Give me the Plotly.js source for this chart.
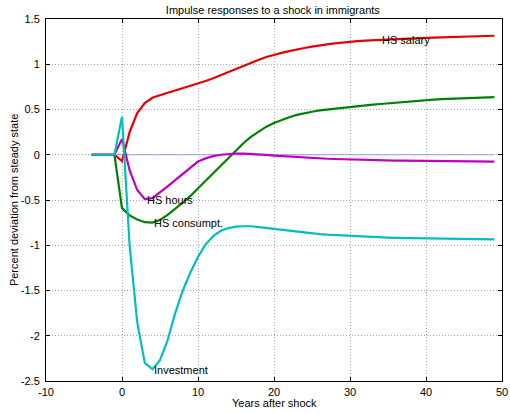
<!DOCTYPE html>
<html><head><meta charset="utf-8">
<script src="https://cdn.plot.ly/plotly-3.0.1.min.js"></script>
<style>html,body{margin:0;padding:0;background:#fff}#chart{width:510px;height:414px}</style>
</head><body><div id="chart"></div>
<script>
const years = [];
for (let t = -4; t <= 49; t++) years.push(t);
const steadyState = years.map(() => 0);
const hsSalary = [0,0,0,0,-0.07,0.25,0.46,0.57,0.63,0.66,0.685,0.71,0.735,0.76,0.785,0.815,0.845,0.88,0.915,0.95,0.985,1.02,1.05,1.08,1.105,1.125,1.145,1.165,1.18,1.195,1.21,1.22,1.23,1.24,1.25,1.255,1.26,1.265,1.27,1.275,1.28,1.283,1.286,1.289,1.292,1.295,1.298,1.3,1.303,1.306,1.308,1.31,1.312,1.315];
const hsConsumpt = [0,0,0,0,-0.59,-0.67,-0.715,-0.745,-0.75,-0.72,-0.665,-0.6,-0.53,-0.455,-0.37,-0.285,-0.2,-0.115,-0.03,0.05,0.13,0.2,0.26,0.31,0.35,0.385,0.415,0.44,0.46,0.475,0.49,0.5,0.51,0.52,0.527,0.536,0.545,0.553,0.561,0.569,0.577,0.585,0.592,0.599,0.605,0.61,0.615,0.619,0.623,0.626,0.629,0.632,0.634,0.636];
const hsHours = [0,0,0,0,0.175,-0.17,-0.39,-0.49,-0.48,-0.42,-0.35,-0.28,-0.21,-0.145,-0.075,-0.04,-0.015,0,0.01,0.013,0.013,0.01,0.005,-0.002,-0.01,-0.016,-0.022,-0.027,-0.032,-0.036,-0.04,-0.044,-0.047,-0.05,-0.053,-0.055,-0.057,-0.059,-0.061,-0.063,-0.064,-0.066,-0.067,-0.068,-0.069,-0.07,-0.071,-0.072,-0.073,-0.074,-0.075,-0.076,-0.076,-0.077];
const investment = [0,0,0,0,0.42,-1.0,-1.85,-2.3,-2.37,-2.27,-2.05,-1.75,-1.5,-1.3,-1.13,-0.99,-0.9,-0.84,-0.81,-0.795,-0.79,-0.79,-0.8,-0.81,-0.82,-0.833,-0.844,-0.854,-0.863,-0.87,-0.877,-0.883,-0.888,-0.893,-0.898,-0.902,-0.906,-0.909,-0.912,-0.915,-0.918,-0.92,-0.922,-0.924,-0.926,-0.927,-0.929,-0.93,-0.931,-0.932,-0.933,-0.934,-0.935,-0.936];
const xTicks = [-10,0,10,20,30,40,50];
const xTickText = ['-10','0','10','20','30','40','50'];
const yTicks = [-2.5,-2,-1.5,-1,-0.5,0,0.5,1,1.5];
const yTickText = ['-2.5','-2','-1.5','-1','-0.5','0','0.5','1','1.5'];
const labels = [
  {text:'HS salary', x:34, y:1.27},
  {text:'HS hours', x:3, y:-0.5},
  {text:'HS consumpt.', x:4, y:-0.75},
  {text:'Investment', x:4, y:-2.38}
];
const xTitle = 'Years after shock';
const yTitle = 'Percent deviation from steady state';

const font = {family:'Liberation Sans, Arial, sans-serif', size:11, color:'#000'};
const mk = (y, color, w) => ({x:years, y:y, type:'scatter', mode:'lines', line:{color:color, width:w}, hoverinfo:'skip'});
const data = [
  mk(steadyState, 'rgb(160,150,225)', 1.2),
  mk(hsSalary, 'rgb(230,0,0)', 2.2),
  mk(hsConsumpt, 'rgb(0,128,0)', 2.2),
  mk(hsHours, 'rgb(191,0,191)', 2.2),
  mk(investment, 'rgb(0,191,191)', 2.2)
];
const axisCommon = {
  showline:true, linecolor:'#000', linewidth:1, mirror:'ticks', ticks:'inside', ticklen:4, tickcolor:'#000',
  showgrid:true, gridcolor:'#a8a8a8', griddash:'1px,2px', gridwidth:1, zeroline:false, tickfont:font
};
const annots = labels.map(l => ({x:l.x, y:l.y, text:l.text, showarrow:false, xanchor:'left', yanchor:'middle', font:font}));
annots.push({xref:'paper', yref:'paper', x:-0.07, y:0.5, text:yTitle, textangle:-90, showarrow:false, xanchor:'center', yanchor:'middle', font:font});
annots.push({xref:'paper', yref:'paper', x:0.5, y:-0.06, text:xTitle, showarrow:false, xanchor:'center', yanchor:'middle', font:font});
const layout = {
  width:510, height:414,
  margin:{l:46, r:8, t:19, b:33},
  paper_bgcolor:'#fff', plot_bgcolor:'#fff',
  showlegend:false,
  font:font,
  title:{text:'Impulse responses to a shock in immigrants', font:font, x:0.535, xanchor:'center', y:0.976, yanchor:'middle'},
  xaxis:Object.assign({}, axisCommon, {range:[-10,50], tickvals:xTicks, ticktext:xTickText, ticklabelstandoff:1}),
  yaxis:Object.assign({}, axisCommon, {range:[-2.5,1.5], tickvals:yTicks, ticktext:yTickText, ticklabelstandoff:3}),
  annotations: annots
};
Plotly.newPlot('chart', data, layout, {displayModeBar:false, staticPlot:true});
</script>
</body></html>
